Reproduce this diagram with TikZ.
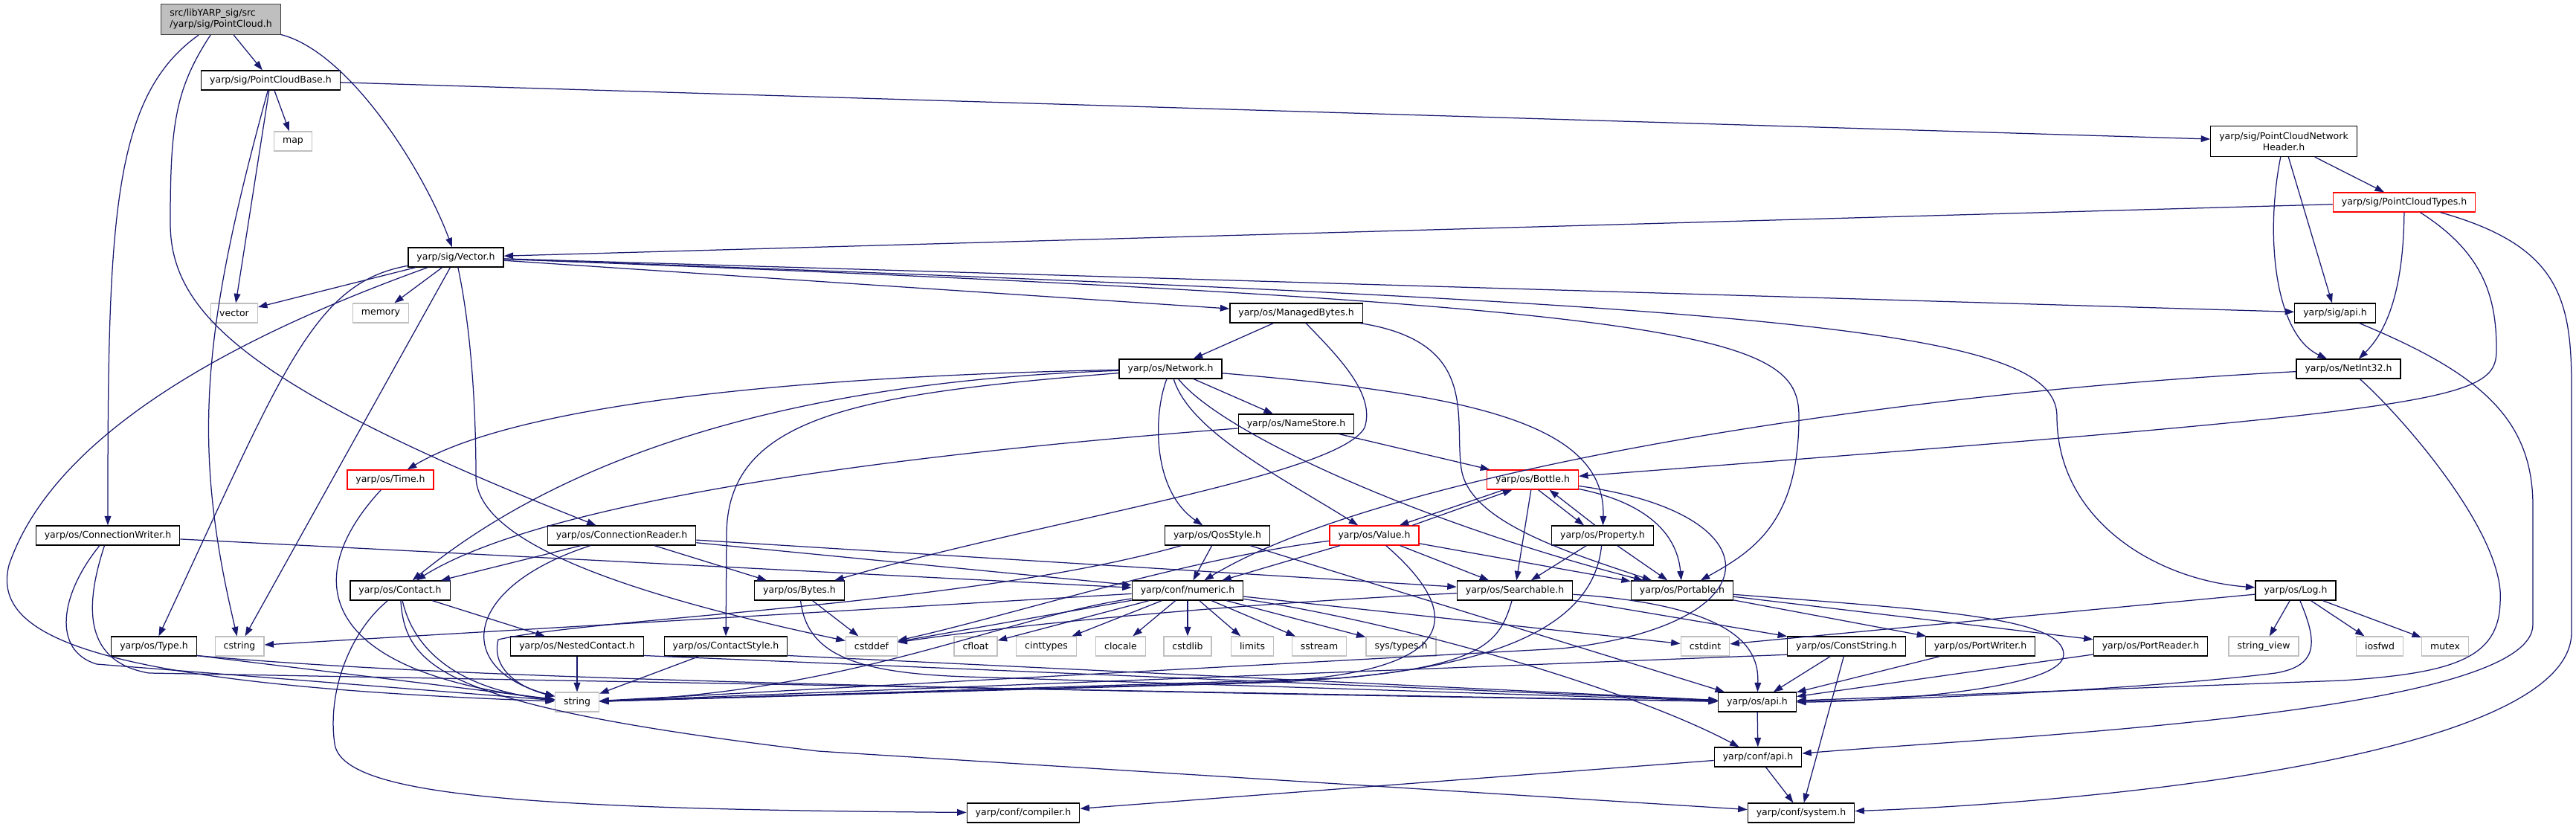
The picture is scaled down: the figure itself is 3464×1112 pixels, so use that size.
\documentclass[tikz,border=0pt]{standalone}
\usepackage{fontspec}
\newfontfamily\dejavu{DejaVu Sans}
\usetikzlibrary{arrows.meta}
\definecolor{edgeblue}{HTML}{191970}
\definecolor{sysgrey}{HTML}{BFBFBF}
\definecolor{rootborder}{HTML}{404040}
\tikzset{
  hdr/.style={draw=black, fill=white, line width=1pt, font=\dejavu\fontsize{10pt}{12pt}\selectfont,
    inner xsep=9.2pt, inner ysep=0pt, minimum height=20.8pt},
  syshdr/.style={hdr, draw=sysgrey},
  cuthdr/.style={hdr, draw=red},
  roothdr/.style={hdr, fill=sysgrey, draw=rootborder, align=left, minimum height=32.8pt},
  dep/.style={draw=edgeblue, line width=1pt, -{Triangle[length=10pt,width=7pt]}}
}
\begin{document}
\begin{tikzpicture}[x=0.8pt,y=-0.8pt]
  \useasboundingbox (0,0) rectangle (3464,1112);
  \node[roothdr] (root) at (297,26) {src/libYARP\_sig/src\\/yarp/sig/PointCloud.h};
  \node[hdr] (pcbase) at (364,108) {yarp/sig/PointCloudBase.h};
  \node[syshdr] (map) at (394,190) {map};
  \node[hdr, align=center, minimum height=32.8pt] (pcnh) at (3071,190) {yarp/sig/PointCloudNetwork\\Header.h};
  \node[cuthdr] (pctypes) at (3233,272) {yarp/sig/PointCloudTypes.h};
  \node[hdr] (vectorh) at (613,346) {yarp/sig/Vector.h};
  \node[syshdr] (vectorstd) at (315,421) {vector};
  \node[syshdr] (memory) at (512,421) {memory};
  \node[hdr] (managed) at (1743,421) {yarp/os/ManagedBytes.h};
  \node[hdr] (sigapi) at (3140,421) {yarp/sig/api.h};
  \node[hdr] (network) at (1574,496) {yarp/os/Network.h};
  \node[hdr] (netint) at (3158,496) {yarp/os/NetInt32.h};
  \node[hdr] (namestore) at (1743,570) {yarp/os/NameStore.h};
  \node[cuthdr] (timeh) at (525,645) {yarp/os/Time.h};
  \node[cuthdr] (bottle) at (2061,645) {yarp/os/Bottle.h};
  \node[hdr] (connwriter) at (145,720) {yarp/os/ConnectionWriter.h};
  \node[hdr] (connreader) at (836,720) {yarp/os/ConnectionReader.h};
  \node[hdr] (qos) at (1637,720) {yarp/os/QosStyle.h};
  \node[cuthdr] (value) at (1848,720) {yarp/os/Value.h};
  \node[hdr] (property) at (2155,720) {yarp/os/Property.h};
  \node[hdr] (contact) at (538,794) {yarp/os/Contact.h};
  \node[hdr] (bytes) at (1075,794) {yarp/os/Bytes.h};
  \node[hdr] (numeric) at (1597,794) {yarp/conf/numeric.h};
  \node[hdr] (searchable) at (2037,794) {yarp/os/Searchable.h};
  \node[hdr] (portable) at (2262,794) {yarp/os/Portable.h};
  \node[hdr] (logh) at (3087,794) {yarp/os/Log.h};
  \node[hdr] (typeh) at (207,869) {yarp/os/Type.h};
  \node[syshdr] (cstring) at (322,869) {cstring};
  \node[hdr] (nested) at (776,869) {yarp/os/NestedContact.h};
  \node[hdr] (cstyle) at (976,869) {yarp/os/ContactStyle.h};
  \node[syshdr] (cstddef) at (1172,869) {cstddef};
  \node[syshdr] (cfloat) at (1312,869) {cfloat};
  \node[syshdr] (cinttypes) at (1407,869) {cinttypes};
  \node[syshdr] (clocale) at (1507,869) {clocale};
  \node[syshdr] (cstdlib) at (1597,869) {cstdlib};
  \node[syshdr] (limits) at (1684,869) {limits};
  \node[syshdr] (sstream) at (1774,869) {sstream};
  \node[syshdr] (systypes) at (1884,869) {sys/types.h};
  \node[syshdr] (cstdint) at (2293,869) {cstdint};
  \node[hdr] (conststr) at (2483,869) {yarp/os/ConstString.h};
  \node[hdr] (portwriter) at (2663,869) {yarp/os/PortWriter.h};
  \node[hdr] (portreader) at (2892,869) {yarp/os/PortReader.h};
  \node[syshdr] (strview) at (3044,869) {string\_view};
  \node[syshdr] (iosfwd) at (3200,869) {iosfwd};
  \node[syshdr] (mutex) at (3288,869) {mutex};
  \node[syshdr] (stringh) at (776,944) {string};
  \node[hdr] (osapi) at (2363,944) {yarp/os/api.h};
  \node[hdr] (confapi) at (2364,1018) {yarp/conf/api.h};
  \node[hdr] (compiler) at (1376,1093) {yarp/conf/compiler.h};
  \node[hdr] (system) at (2422,1093) {yarp/conf/system.h};

  \draw[dep] (root) .. controls (150,130) and (145,300) .. (connwriter);
  \draw[dep] (root) .. controls (235,120) and (229,170) .. (229,300) .. controls (229,420) and (330,520) .. (connreader);
  \draw[dep] (root) -- (pcbase);
  \draw[dep] (root) .. controls (470,70) and (570,230) .. (vectorh);

  \draw[dep] (pcbase) -- (map);
  \draw[dep] (pcbase) -- (vectorstd);
  \draw[dep] (pcbase) .. controls (270,450) and (258,600) .. (cstring);
  \draw[dep] (pcbase) -- (pcnh);

  \draw[dep] (pcnh) -- (pctypes);
  \draw[dep] (pcnh) -- (sigapi);
  \draw[dep] (pcnh) .. controls (3045,320) and (3060,450) .. (netint);

  \draw[dep] (pctypes) -- (vectorh);
  \draw[dep] (pctypes) .. controls (3232,400) and (3205,450) .. (netint);
  \draw[dep] (pctypes) .. controls (3340,340) and (3357,400) .. (3357,470) .. controls (3357,540) and (3300,550) .. (bottle);
  \draw[dep] (pctypes) .. controls (3440,330) and (3458,400) .. (3458,520) -- (3458,850) .. controls (3458,1020) and (2800,1080) .. (system);

  \draw[dep] (sigapi) .. controls (3330,500) and (3406,560) .. (3406,680) -- (3406,840) .. controls (3406,960) and (2700,990) .. (confapi);
  \draw[dep] (netint) .. controls (2500,530) and (1850,640) .. (numeric);
  \draw[dep] (netint) .. controls (3230,560) and (3370,720) .. (3362,810) .. controls (3360,885) and (3300,905) .. (3150,915) -- (osapi);

  \draw[dep] (vectorh) -- (vectorstd);
  \draw[dep] (vectorh) -- (memory);
  \draw[dep] (vectorh) .. controls (380,430) and (80,560) .. (12,760) .. controls (-10,850) and (100,920) .. (stringh);
  \draw[dep] (vectorh) .. controls (420,380) and (380,500) .. (typeh);
  \draw[dep] (vectorh) -- (cstring);
  \draw[dep] (vectorh) .. controls (635,450) and (640,560) .. (640,640) .. controls (640,720) and (800,790) .. (cstddef);
  \draw[dep] (vectorh) -- (managed);
  \draw[dep] (vectorh) -- (sigapi);
  \draw[dep] (vectorh) .. controls (2300,410) and (2419,450) .. (2419,560) .. controls (2419,700) and (2360,740) .. (portable);
  \draw[dep] (vectorh) .. controls (2400,410) and (2766,440) .. (2766,560) .. controls (2766,700) and (2900,780) .. (logh);

  \draw[dep] (managed) -- (network);
  \draw[dep] (managed) .. controls (1800,480) and (1850,530) .. (1835,575) .. controls (1800,640) and (1400,700) .. (bytes);
  \draw[dep] (managed) .. controls (1990,460) and (1955,560) .. (1965,630) .. controls (1975,700) and (2100,740) .. (portable);

  \draw[dep] (network) .. controls (1100,505) and (700,540) .. (timeh);
  \draw[dep] (network) .. controls (1150,510) and (800,580) .. (contact);
  \draw[dep] (network) .. controls (1150,530) and (977,560) .. (977,720) -- (cstyle);
  \draw[dep] (network) .. controls (1550,560) and (1550,660) .. (qos);
  \draw[dep] (network) .. controls (1600,580) and (1720,640) .. (value);
  \draw[dep] (network) .. controls (1640,580) and (1900,700) .. (portable);
  \draw[dep] (network) -- (namestore);
  \draw[dep] (network) .. controls (1980,530) and (2160,570) .. (property);

  \draw[dep] (namestore) .. controls (1150,615) and (720,680) .. (contact);
  \draw[dep] (namestore) -- (bottle);
  \draw[dep] (timeh) .. controls (400,780) and (430,905) .. (stringh);

  \draw[dep] (connwriter) -- (numeric);
  \draw[dep] (connwriter) .. controls (80,800) and (70,875) .. (130,893) -- (stringh);
  \draw[dep] (connwriter) .. controls (112,820) and (115,890) .. (200,905) -- (osapi);

  \draw[dep] (connreader) -- (contact);
  \draw[dep] (connreader) .. controls (620,790) and (610,900) .. (stringh);
  \draw[dep] (connreader) -- (bytes);
  \draw[dep] (connreader) -- (numeric);
  \draw[dep] (connreader) -- (searchable);

  \draw[dep] (contact) -- (nested);
  \draw[dep] (contact) .. controls (560,890) and (640,930) .. (stringh);
  \draw[dep] (contact) .. controls (470,850) and (440,930) .. (450,1000) .. controls (460,1070) and (700,1088) .. (compiler);
  \draw[dep] (contact) .. controls (545,900) and (600,950) .. (1100,1010) -- (system);

  \draw[dep] (nested) -- (stringh);
  \draw[dep] ([yshift=-10pt]nested.east) -- (osapi);
  \draw[dep] (cstyle) -- (stringh);
  \draw[dep] ([yshift=-10pt]cstyle.east) -- (osapi);
  \draw[dep] ([yshift=-10pt]typeh.east) -- (stringh);
  \draw[dep] ([yshift=-10pt]typeh.east) .. controls (600,912) and (1200,925) .. (osapi);
  \draw[dep] (bytes) -- (cstddef);
  \draw[dep] (bytes) .. controls (1085,880) and (1150,905) .. (1300,910) -- (osapi);

  \draw[dep] (qos) -- (numeric);
  \draw[dep] (qos) .. controls (1300,815) and (800,830) .. (670,860) .. controls (660,900) and (700,925) .. (stringh);
  \draw[dep] (qos) -- (osapi);

  \draw[dep] ([xshift=41pt]value.north) -- ([xshift=-22pt]bottle.south);
  \draw[dep] ([xshift=-31pt]bottle.south) -- ([xshift=27pt]value.north);
  \draw[dep] (value) -- (numeric);
  \draw[dep] (value) .. controls (1600,750) and (1350,830) .. (cstddef);
  \draw[dep] (value) -- (searchable);
  \draw[dep] (value) -- (portable);
  \draw[dep] (value) .. controls (1975,830) and (1960,905) .. (1700,917) -- (stringh);

  \draw[dep] (bottle) -- (searchable);
  \draw[dep] ([xshift=6pt]bottle.south) -- ([xshift=-20pt]property.north);
  \draw[dep] ([xshift=-8pt]property.north) -- ([xshift=18pt]bottle.south);
  \draw[dep] (bottle) .. controls (2210,675) and (2255,715) .. (portable);
  \draw[dep] (bottle) .. controls (2390,690) and (2390,840) .. (2100,872) -- (stringh);

  \draw[dep] (property) -- (searchable);
  \draw[dep] (property) -- (portable);
  \draw[dep] (property) .. controls (2145,820) and (2060,890) .. (1800,912) -- (stringh);

  \draw[dep] (numeric) -- (cstddef);
  \draw[dep] (numeric) -- (cfloat);
  \draw[dep] (numeric) -- (cinttypes);
  \draw[dep] (numeric) -- (clocale);
  \draw[dep] (numeric) -- (cstdlib);
  \draw[dep] (numeric) -- (limits);
  \draw[dep] (numeric) -- (sstream);
  \draw[dep] (numeric) -- (systypes);
  \draw[dep] (numeric) -- (cstdint);
  \draw[dep] (numeric) -- (cstring);
  \draw[dep] (numeric) .. controls (1350,830) and (1150,930) .. (stringh);
  \draw[dep] (numeric) .. controls (1900,840) and (2200,930) .. (confapi);

  \draw[dep] (searchable) .. controls (1700,810) and (1400,835) .. (cstddef);
  \draw[dep] (searchable) .. controls (2015,870) and (1990,905) .. (1700,918) -- (stringh);
  \draw[dep] (searchable) -- (conststr);
  \draw[dep] (searchable) .. controls (2350,815) and (2365,880) .. (osapi);

  \draw[dep] (portable) -- (portwriter);
  \draw[dep] (portable) -- (portreader);
  \draw[dep] (portable) .. controls (2600,820) and (2775,830) .. (2775,880) .. controls (2775,930) and (2500,944) .. (osapi);

  \draw[dep] ([yshift=-9pt]conststr.west) -- (stringh);
  \draw[dep] (conststr) -- (osapi);
  \draw[dep] (conststr) -- (system);
  \draw[dep] (portwriter) -- (osapi);
  \draw[dep] (portreader) -- (osapi);

  \draw[dep] (logh) -- (cstdint);
  \draw[dep] (logh) -- (strview);
  \draw[dep] (logh) -- (iosfwd);
  \draw[dep] (logh) -- (mutex);
  \draw[dep] (logh) .. controls (3115,860) and (3120,895) .. (3060,905) .. controls (2900,925) and (2600,940) .. (osapi);

  \draw[dep] (osapi) -- (confapi);
  \draw[dep] (confapi) -- (system);
  \draw[dep] (confapi) -- (compiler);
\end{tikzpicture}
\end{document}
